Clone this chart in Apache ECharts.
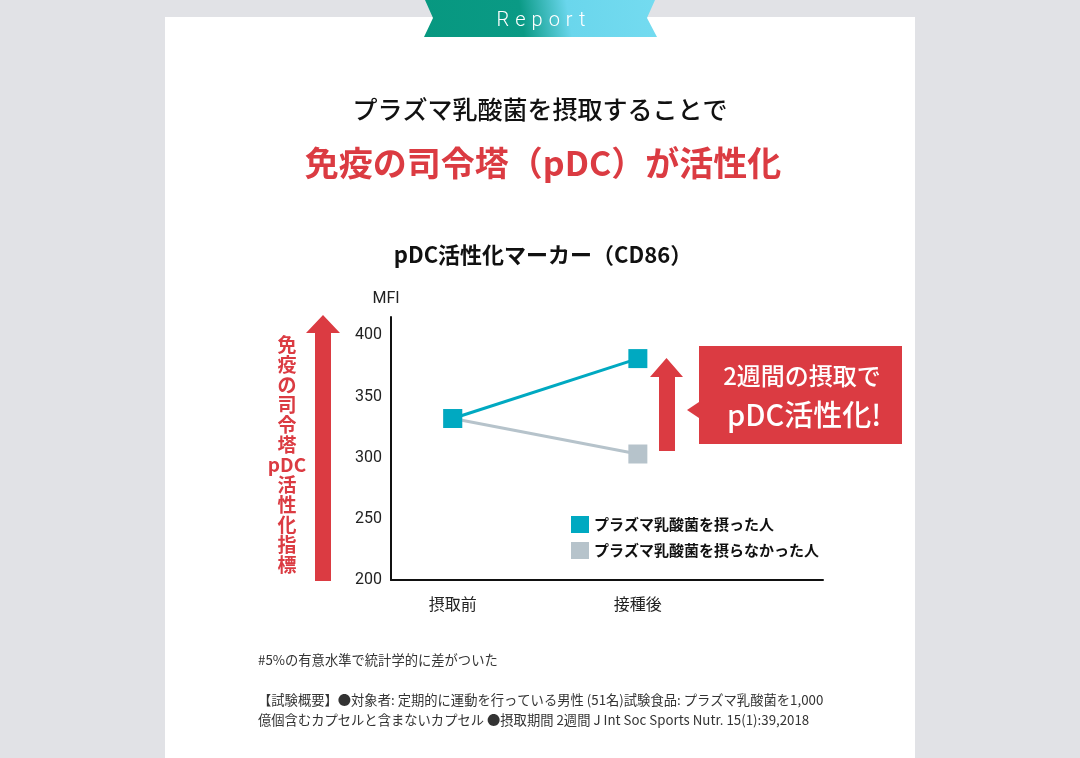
<!DOCTYPE html>
<html>
<head>
<meta charset="utf-8">
<script src="https://cdn.jsdelivr.net/npm/echarts@6/dist/echarts.min.js"></script>
<style>
html,body{margin:0;padding:0;background:#e1e2e6;}
#wrap{position:relative;width:1080px;height:758px;}
#chart{position:absolute;left:0;top:0;width:1080px;height:758px;}
#report{position:absolute;left:424px;top:0;width:234px;height:37px;line-height:38px;text-align:center;color:#fff;font-family:Roboto,'Noto Sans',sans-serif;font-weight:300;font-size:20px;letter-spacing:6px;padding-left:6px;box-sizing:border-box;pointer-events:none;}
</style>
</head>
<body>
<div id="wrap">
<div id="chart"></div>
<div id="report">Report</div>
</div>
<script>
// ---- data ----
const categories = ['摂取前', '接種後'];
const seriesNames = ['プラズマ乳酸菌を摂った人', 'プラズマ乳酸菌を摂らなかった人'];
const takenValues = [332, 381];
const notTakenValues = [332, 303];
const yTickValues = [200, 250, 300, 350, 400];

// ---- layout helpers ----
const slotCount = 8;
const categorySlots = [1, 4];
const axisData = Array.from({length: slotCount}, () => '');
categorySlots.forEach((s, i) => { axisData[s] = categories[i]; });
function toSlots(vals) {
  const arr = Array.from({length: slotCount}, () => '-');
  categorySlots.forEach((s, i) => { arr[s] = vals[i]; });
  return arr;
}

const RED = '#db3b42';
const CJK = "'Noto Sans CJK JP','Noto Sans',sans-serif";

const chart = echarts.init(document.getElementById('chart'));
chart.setOption({
  backgroundColor: '#e1e2e6',
  animation: false,
  textStyle: {fontFamily: CJK},
  grid: {left: 391, right: 257, top: 317, bottom: 178},
  xAxis: {
    type: 'category',
    data: axisData,
    boundaryGap: false,
    axisLine: {lineStyle: {color: '#111', width: 2}},
    axisTick: {show: false},
    axisLabel: {interval: 0, margin: 16, fontSize: 16, color: '#222', fontFamily: CJK}
  },
  yAxis: {
    type: 'value',
    min: yTickValues[0],
    max: 415,
    interval: 50,
    name: 'MFI',
    nameGap: 10,
    nameTextStyle: {fontSize: 16, color: '#222', fontFamily: 'Roboto, sans-serif', padding: [0, 10, 0, 0]},
    axisLine: {show: true, lineStyle: {color: '#111', width: 2}},
    axisTick: {show: false},
    splitLine: {show: false},
    axisLabel: {
      margin: 9, fontSize: 16, color: '#222', fontFamily: 'Roboto, sans-serif',
      formatter: v => yTickValues.indexOf(v) >= 0 ? String(v) : ''
    }
  },
  legend: {
    data: [seriesNames[0], seriesNames[1]],
    orient: 'vertical',
    left: 571,
    top: 516,
    padding: 0,
    icon: 'rect',
    itemWidth: 18,
    itemHeight: 17,
    itemGap: 9,
    textStyle: {fontSize: 15, fontWeight: 'bold', color: '#111', fontFamily: CJK}
  },
  series: [
    {
      name: seriesNames[1],
      type: 'line',
      data: toSlots(notTakenValues),
      connectNulls: true,
      symbol: 'rect',
      symbolSize: 19,
      lineStyle: {color: '#b6c3cb', width: 3},
      itemStyle: {color: '#b6c3cb'},
      z: 3
    },
    {
      name: seriesNames[0],
      type: 'line',
      data: toSlots(takenValues),
      connectNulls: true,
      symbol: 'rect',
      symbolSize: 19,
      lineStyle: {color: '#00a9c1', width: 3},
      itemStyle: {color: '#00a9c1'},
      z: 4
    }
  ],
  graphic: [
    {type: 'rect', z: -10, shape: {x: 165, y: 17, width: 750, height: 741}, style: {fill: '#ffffff'}},
    {type: 'polygon', z: -5,
      shape: {points: [[425, 0], [655, 0], [647, 18], [657, 37], [424, 37], [433, 18]]},
      style: {fill: new echarts.graphic.LinearGradient(0, 1, 1, 0, [
        {offset: 0, color: '#079880'}, {offset: 0.42, color: '#0a9a85'},
        {offset: 0.62, color: '#6ad6ec'}, {offset: 1, color: '#74dbf0'}])}},
    {type: 'text', x: 540, y: 109, style: {text: 'プラズマ乳酸菌を摂取することで', fill: '#111', font: "500 25px 'Noto Sans CJK JP'", textAlign: 'center', textVerticalAlign: 'middle'}},
    {type: 'text', x: 543, y: 163, style: {text: '免疫の司令塔（pDC）が活性化', fill: RED, font: "bold 34px 'Noto Sans CJK JP'", textAlign: 'center', textVerticalAlign: 'middle'}},
    {type: 'text', x: 543, y: 255, style: {text: 'pDC活性化マーカー（CD86）', fill: '#111', font: "bold 22px 'Noto Sans CJK JP'", textAlign: 'center', textVerticalAlign: 'middle'}},
    {type: 'polygon', shape: {points: [[306, 333], [323, 315], [340, 333], [331, 333], [331, 581], [315, 581], [315, 333]]}, style: {fill: RED}},
    {type: 'text', x: 287, y: 455, style: {text: '免\n疫\nの\n司\n令\n塔\npDC\n活\n性\n化\n指\n標', fill: RED, font: "bold 19px 'Noto Sans CJK JP'", lineHeight: 20, textAlign: 'center', textVerticalAlign: 'middle'}},
    {type: 'polygon', shape: {points: [[650, 377], [666.5, 358], [683, 377], [675, 377], [675, 451], [659, 451], [659, 377]]}, style: {fill: RED}},
    {type: 'polygon', shape: {points: [[699, 346], [902, 346], [902, 444], [699, 444], [699, 418], [687, 410], [699, 402]]}, style: {fill: RED}},
    {type: 'text', x: 802, y: 376, style: {text: '2週間の摂取で', fill: '#fff', font: "500 24px 'Noto Sans CJK JP'", textAlign: 'center', textVerticalAlign: 'middle'}},
    {type: 'text', x: 804, y: 415, style: {text: 'pDC活性化!', fill: '#fff', font: "500 29px 'Noto Sans CJK JP'", textAlign: 'center', textVerticalAlign: 'middle'}},
    {type: 'text', x: 258, y: 660, style: {text: '#5%の有意水準で統計学的に差がついた', fill: '#333', font: "13.3px 'Noto Sans CJK JP'", textVerticalAlign: 'middle'}},
    {type: 'text', x: 258, y: 700, style: {text: '【試験概要】●対象者: 定期的に運動を行っている男性 (51名)試験食品: プラズマ乳酸菌を1,000', fill: '#333', font: "13.3px 'Noto Sans CJK JP'", textVerticalAlign: 'middle'}},
    {type: 'text', x: 258, y: 720, style: {text: '億個含むカプセルと含まないカプセル ●摂取期間 2週間 J Int Soc Sports Nutr. 15(1):39,2018', fill: '#333', font: "13.3px 'Noto Sans CJK JP'", textVerticalAlign: 'middle'}}
  ]
});
</script>
</body>
</html>
